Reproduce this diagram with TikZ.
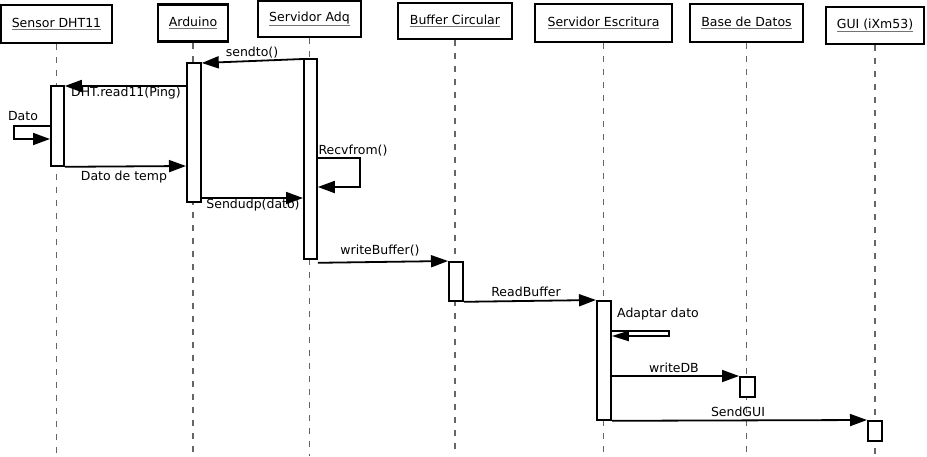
\documentclass[tikz,border=0pt]{standalone}
\usepackage{fontspec}
\setmainfont{DejaVu Sans}
\usetikzlibrary{arrows.meta,calc}
\begin{document}
\begin{tikzpicture}[x=1pt,y=-1pt,
  every node/.style={font=\fontsize{12.5}{14}\selectfont},
  head/.style={draw,line width=2.5pt,fill=white,inner sep=0pt},
  lifeline/.style={draw=black!60,line width=1.2pt,dash pattern=on 6pt off 7pt},
  act/.style={draw,line width=1.8pt,fill=white,inner sep=0pt,anchor=north west},
  msg/.style={line width=1.8pt,-{Triangle[length=17pt,width=12pt]}},
  lbl/.style={inner sep=0pt}]
\useasboundingbox (0,0) rectangle (927,456);
\newcommand\hdr[1]{\leavevmode\vtop{\hbox{#1}\kern1pt{\color{black!55}\hrule height 1.4pt}}}
\coordinate (bottom) at (0,456);
% headers
\node[head,minimum width=111pt,minimum height=38pt] (hS) at (56.5,24) {\hdr{Sensor DHT11}};
\node[head,minimum width=70pt,minimum height=37pt] (hA) at (193,23) {\hdr{Arduino}};
\node[head,minimum width=103pt,minimum height=36pt] (hQ) at (309.5,19) {\hdr{Servidor Adq}};
\node[head,minimum width=114pt,minimum height=36pt] (hB) at (455,21) {\hdr{Buffer Circular}};
\node[head,minimum width=137pt,minimum height=38pt] (hE) at (603.5,23) {\hdr{Servidor Escritura}};
\node[head,minimum width=113pt,minimum height=38pt] (hD) at (746.5,23) {\hdr{Base de Datos}};
\node[head,minimum width=98pt,minimum height=37pt] (hG) at (875,25.5) {\hdr{GUI (iXm53)}};
% lifelines
\foreach \h in {hS,hA,hQ,hB,hE,hD,hG}{
  \draw[lifeline] (\h.south) -- (\h.south |- bottom);
}
% activations
\node[act,minimum width=13pt,minimum height=80pt] (aS) at (50,85) {};
\node[act,minimum width=14pt,minimum height=139pt] (aA) at (186,62) {};
\node[act,minimum width=13pt,minimum height=200pt] (aQ) at (303,58) {};
\node[act,minimum width=14pt,minimum height=39pt] (aB) at (448,261) {};
\node[act,minimum width=14pt,minimum height=119pt] (aE) at (596,300) {};
\node[act,minimum width=15pt,minimum height=20pt] (aD) at (739,376) {};
\node[act,minimum width=14pt,minimum height=20pt] (aG) at (867,420) {};
% messages
\draw[msg] ($(aQ.north west)+(0,1)$) -- ($(aA.north east)+(0,1)$);
\node[lbl] (l1) at (252,53) {sendto()};
\draw[msg] ($(aA.north west)+(0,24)$) -- ($(aS.north east)+(0,1)$);
\node[lbl] (l2) at (126,93) {DHT.read11(Ping)};
\draw[msg] ($(aS.north west)+(0,41)$) -- ++(-36,0) -- ++(0,13) -- ($(aS.north west)+(0,54)$);
\node[lbl] (l3) at (23,116) {Dato};
\draw[msg] (aS.south east) -- ($(aA.north west)+(0,104)$);
\node[lbl] (l4) at (124,177) {Dato de temp};
\draw[msg] ($(aA.north east)+(0,136)$) -- ($(aQ.north west)+(0,140)$);
\node[lbl] (l5) at (253,205) {Sendudp(dato)};
\draw[msg] ($(aQ.north east)+(0,100)$) -- ++(42,0) -- ++(0,29) -- ($(aQ.north east)+(0,129)$);
\node[lbl] (l6) at (353,151) {Recvfrom()};
\draw[msg] ($(aQ.south east)+(0,3)$) -- (aB.north west);
\node[lbl] (l7) at (380,251) {writeBuffer()};
\draw[msg] (aB.south east) -- (aE.north west);
\node[lbl] (l8) at (526,292) {ReadBuffer};
\draw[line width=1.8pt,-{Triangle[length=17pt,width=10pt]}] ($(aE.north east)+(0,31)$) -- ++(57,0) -- ++(0,5) -- ($(aE.north east)+(0,36)$);
\node[lbl] (l9) at (658,314) {Adaptar dato};
\draw[msg] ($(aE.north east)+(0,76)$) -- (aD.north west);
\node[lbl] (l10) at (674,368) {writeDB};
\draw[msg] (aE.south east) -- (aG.north west);
\node[lbl] (l11) at (738,412) {SendGUI};
\end{tikzpicture}
\end{document}
